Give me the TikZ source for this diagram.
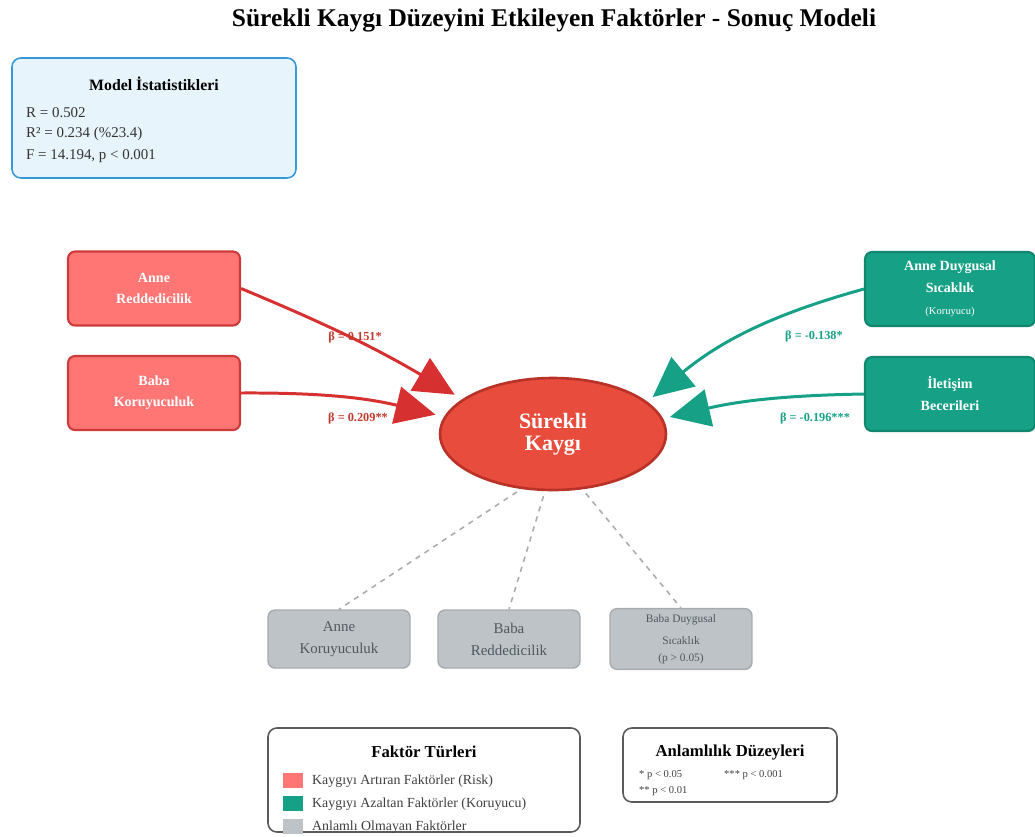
\documentclass[tikz,border=0pt]{standalone}
\usepackage{fontspec}
\setmainfont{Liberation Serif}
\usepackage{tikz}
\usetikzlibrary{shapes.geometric, arrows.meta, positioning, calc}
\definecolor{riskred}{RGB}{255, 118, 117}
\definecolor{riskborder}{RGB}{204, 58, 58}
\definecolor{anxietyred}{RGB}{231, 76, 60}
\definecolor{anxietyborder}{RGB}{184, 50, 39}
\definecolor{arrowred}{RGB}{214, 48, 49}
\definecolor{labelred}{RGB}{192, 57, 43}
\definecolor{protectgreen}{RGB}{22, 160, 133}
\definecolor{protectborder}{RGB}{17, 135, 111}
\definecolor{nsgray}{RGB}{189, 195, 199}
\definecolor{nsborder}{RGB}{165, 171, 175}
\definecolor{nstext}{RGB}{80, 88, 94}
\definecolor{statblue}{RGB}{52, 152, 219}
\definecolor{statfill}{RGB}{232, 244, 252}
\definecolor{legendborder}{RGB}{90, 90, 90}

\tikzset{
    riskbox/.style={rectangle, rounded corners=4pt, draw=riskborder, fill=riskred, line width=1.2pt,
        minimum width=3.44cm, minimum height=1.48cm, text=white, align=center,
        font=\bfseries\fontsize{8}{12}\selectfont},
    protbox/.style={rectangle, rounded corners=4pt, draw=protectborder, fill=protectgreen, line width=1.2pt,
        minimum width=3.4cm, minimum height=1.48cm, text=white, align=center,
        font=\bfseries\fontsize{8}{12.5}\selectfont},
    nsbox/.style={rectangle, rounded corners=4pt, draw=nsborder, fill=nsgray, line width=0.8pt,
        minimum width=2.84cm, minimum height=1.16cm, text=nstext, align=center,
        font=\fontsize{8.5}{12.5}\selectfont},
    infobox/.style={rectangle, rounded corners=5pt, fill=white, line width=0.9pt},
    riskarrow/.style={draw=arrowred, line width=1.7pt, -{Triangle[length=0.8cm, width=0.75cm]}, shorten >=5pt},
    protarrow/.style={draw=protectgreen, line width=1.7pt, -{Triangle[length=0.8cm, width=0.75cm]}, shorten >=4pt},
    nsline/.style={draw=gray!65, dashed, line width=0.9pt, shorten <=3pt},
    betalabel/.style={font=\bfseries\fontsize{7}{8}\selectfont},
    swatch/.style={rectangle, minimum width=0.4cm, minimum height=0.3cm, inner sep=0pt}
}

\begin{document}
\begin{tikzpicture}[x=0.02cm, y=-0.02cm]
    \useasboundingbox (0,0) rectangle (1035,836);

    % Title
    \node[font=\bfseries\fontsize{14.5}{16}\selectfont] (title) at (554,20) {Sürekli Kaygı Düzeyini Etkileyen Faktörler - Sonuç Modeli};

    % Model statistics
    \node[infobox, draw=statblue, fill=statfill, minimum width=5.68cm, minimum height=2.4cm] (stats) at (154,118) {};
    \node[font=\bfseries\fontsize{9}{10}\selectfont] (statstitle) at (154,84) {Model İstatistikleri};
    \node[anchor=west, font=\fontsize{8.5}{10}\selectfont, text=black!80] (statr) at (20,113) {R = 0.502};
    \node[anchor=west, font=\fontsize{8.5}{10}\selectfont, text=black!80] (statrsq) at (20,134) {R² = 0.234 (\%23.4)};
    \node[anchor=west, font=\fontsize{8.5}{10}\selectfont, text=black!80] (statf) at (20,156) {F = 14.194, p < 0.001};

    % Outcome
    \node[ellipse, draw=anxietyborder, fill=anxietyred, line width=1.5pt, minimum width=4.52cm, minimum height=2.24cm,
        text=white, align=center, font=\bfseries\fontsize{12.5}{12.5}\selectfont] (kaygi) at (553,434) {Sürekli\\Kaygı};

    % Risk factors
    \node[riskbox] (annered) at (154,288.5) {Anne\\Reddedicilik};
    \node[riskbox] (babakor) at (154,393) {Baba\\Koruyuculuk};

    % Protective factors
    \node[protbox] (anneduy) at (950,289) {Anne Duygusal\\Sıcaklık\\{\mdseries\fontsize{6}{7}\selectfont (Koruyucu)}};
    \node[protbox] (iletisim) at (950,394) {İletişim\\Becerileri};

    % Significant paths
    \draw[riskarrow] (annered.east) to[bend left=4] (kaygi.159);
    \draw[riskarrow] (babakor.east) to[bend left=7] (kaygi.171);
    \draw[protarrow] (anneduy.west) to[bend right=12] (kaygi.19);
    \draw[protarrow] (iletisim.west) to[bend right=6] (kaygi.8);

    \node[betalabel, text=labelred] (b1) at (355,337) {β = 0.151*};
    \node[betalabel, text=labelred] (b2) at (358,418) {β = 0.209**};
    \node[betalabel, text=protectgreen] (b3) at (814,336) {β = -0.138*};
    \node[betalabel, text=protectgreen] (b4) at (815,418) {β = -0.196***};

    % Non-significant factors
    \node[nsbox] (annekor) at (339,639) {Anne\\Koruyuculuk};
    \node[nsbox] (babared) at (509,639) {Baba\\Reddedicilik};
    \node[nsbox, font=\fontsize{6.5}{9.5}\selectfont] (babaduy) at (681,639) {Baba Duygusal\\[3pt]Sıcaklık\\(p > 0.05)};

    \draw[nsline] (kaygi.240) -- (annekor.north);
    \draw[nsline] (kaygi.262) -- (babared.north);
    \draw[nsline] (kaygi.298) -- (babaduy.north);

    % Legend: factor types
    \node[infobox, draw=legendborder, minimum width=6.24cm, minimum height=2.08cm] (legend) at (424,780) {};
    \node[font=\bfseries\fontsize{9.5}{11}\selectfont] (legendtitle) at (424,752) {Faktör Türleri};
    \node[swatch, fill=riskred] (swrisk) at (293,780) {};
    \node[swatch, fill=protectgreen] (swprot) at (293,803) {};
    \node[swatch, fill=nsgray] (swns) at (293,826) {};
    \node[anchor=west, font=\fontsize{7.9}{9}\selectfont, text=black!75] (lgrisk) at (306,781) {Kaygıyı Artıran Faktörler (Risk)};
    \node[anchor=west, font=\fontsize{7.9}{9}\selectfont, text=black!75] (lgprot) at (306,804) {Kaygıyı Azaltan Faktörler (Koruyucu)};
    \node[anchor=west, font=\fontsize{7.9}{9}\selectfont, text=black!75] (lgns) at (306,827) {Anlamlı Olmayan Faktörler};

    % Legend: significance levels
    \node[infobox, draw=legendborder, minimum width=4.28cm, minimum height=1.48cm] (signif) at (730,765) {};
    \node[font=\bfseries\fontsize{9.5}{11}\selectfont] (signiftitle) at (730,752) {Anlamlılık Düzeyleri};
    \node[anchor=west, font=\fontsize{6}{7}\selectfont, text=black!75] (sig1) at (633,775) {* p < 0.05};
    \node[anchor=west, font=\fontsize{6}{7}\selectfont, text=black!75] (sig3) at (718,775) {*** p < 0.001};
    \node[anchor=west, font=\fontsize{6}{7}\selectfont, text=black!75] (sig2) at (633,791) {** p < 0.01};
\end{tikzpicture}
\end{document}
